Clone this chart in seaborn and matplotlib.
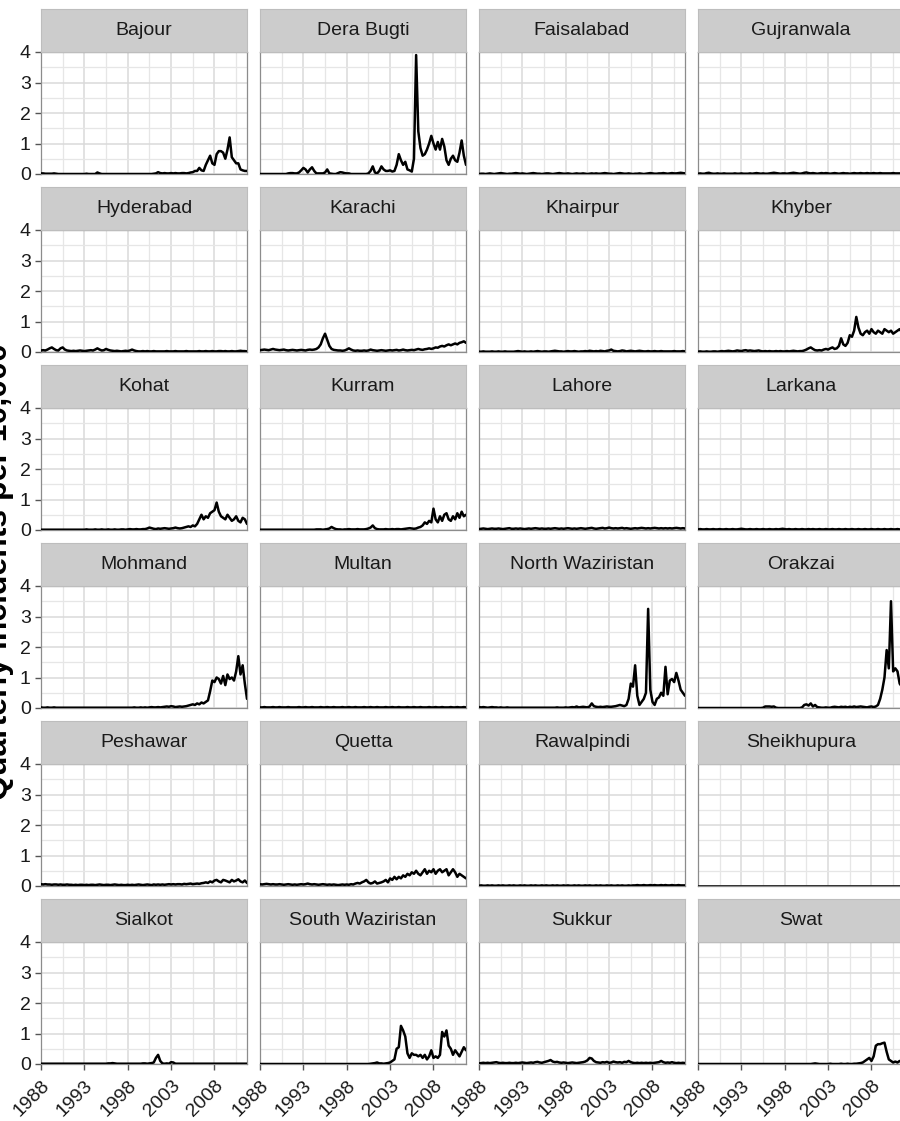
import numpy as np
import pandas as pd
import matplotlib
matplotlib.use("Agg")
import matplotlib.pyplot as plt
import seaborn as sns

# ---------------- data (quarterly, 1988 Q1 .. 2011 Q4) ----------------
districts = ["Bajour", "Dera Bugti", "Faisalabad", "Gujranwala",
             "Hyderabad", "Karachi", "Khairpur", "Khyber",
             "Kohat", "Kurram", "Lahore", "Larkana",
             "Mohmand", "Multan", "North Waziristan", "Orakzai",
             "Peshawar", "Quetta", "Rawalpindi", "Sheikhupura",
             "Sialkot", "South Waziristan", "Sukkur", "Swat"]

quarters = [1988 + 0.25 * i for i in range(96)]

bajour = [
 .02,.02,.01,.01,.01,.01,.02,.01,
 0,0,0,0,0,0,0,0,
 0,0,0,0,0,.01,0,0,
 0,0,.05,.02,0,0,0,0,
 0,0,0,0,0,0,0,0,
 0,0,0,0,0,0,0,0,
 0,0,0,0,.01,.02,.06,.03,
 .02,.03,.02,.02,.03,.02,.03,.02,
 .02,.03,.03,.02,.03,.05,.06,.10,
 .10,.20,.12,.10,.30,.45,.60,.35,
 .30,.65,.75,.75,.70,.50,.80,1.20,
 .55,.45,.35,.35,.15,.12,.10,.10]

dera_bugti = [
 0,0,0,0,0,0,0,0,
 0,0,0,0,0,.02,.03,.03,
 .02,.02,.05,.12,.20,.15,.05,.15,
 .22,.10,.02,.02,.02,.02,.05,.15,
 .02,.01,0,0,.03,.06,.05,.03,
 .02,.02,0,0,0,0,0,0,
 0,0,.02,.10,.25,.05,.02,.10,
 .25,.15,.10,.10,.12,.08,.10,.30,
 .65,.45,.30,.40,.15,.12,.08,.50,
 3.90,1.40,.85,.60,.65,.80,1.00,1.25,
 1.00,.80,1.05,.80,1.15,.90,.45,.30,
 .50,.60,.45,.40,.70,1.10,.60,.30]

faisalabad = [
 .00,.01,.01,.00,.01,.02,.01,.00,
 .01,.02,.03,.02,.01,.00,.01,.01,
 .02,.03,.02,.01,.02,.01,.00,.01,
 .02,.03,.02,.01,.01,.00,.01,.02,
 .02,.01,.00,.01,.02,.03,.02,.01,
 .01,.02,.01,.00,.01,.02,.01,.01,
 .02,.01,.00,.01,.02,.01,.02,.01,
 .01,.02,.03,.02,.01,.01,.00,.01,
 .02,.03,.02,.01,.01,.02,.01,.00,
 .01,.01,.02,.01,.00,.01,.02,.03,
 .02,.01,.01,.02,.02,.03,.02,.01,
 .02,.03,.02,.02,.03,.04,.03,.02]

gujranwala = [
 .01,.02,.01,.01,.03,.04,.02,.01,
 .01,.02,.01,.01,.02,.01,.01,.01,
 .01,.02,.01,.01,.02,.01,.01,.01,
 .02,.01,.02,.03,.02,.01,.02,.01,
 .01,.02,.03,.04,.03,.02,.01,.02,
 .02,.01,.02,.03,.04,.03,.02,.01,
 .02,.04,.05,.03,.02,.03,.02,.01,
 .02,.03,.02,.03,.02,.01,.02,.03,
 .02,.01,.02,.03,.02,.02,.01,.02,
 .03,.02,.02,.03,.02,.02,.03,.02,
 .02,.03,.02,.02,.03,.02,.02,.02,
 .02,.02,.03,.02,.02,.02,.03,.02]

hyderabad = [
 .05,.06,.05,.08,.12,.15,.10,.06,
 .05,.12,.15,.08,.05,.04,.03,.04,
 .03,.04,.05,.04,.03,.04,.05,.06,
 .05,.08,.12,.08,.05,.06,.10,.07,
 .05,.04,.03,.04,.03,.02,.03,.04,
 .03,.05,.08,.05,.03,.02,.02,.03,
 .02,.03,.02,.02,.03,.02,.02,.02,
 .02,.02,.03,.02,.02,.02,.03,.02,
 .02,.02,.02,.03,.02,.02,.02,.02,
 .02,.03,.02,.02,.03,.02,.02,.03,
 .02,.02,.03,.03,.02,.03,.02,.02,
 .03,.02,.02,.03,.04,.03,.03,.02]

karachi = [
 .06,.07,.08,.07,.06,.08,.10,.08,
 .07,.06,.07,.08,.06,.05,.06,.07,
 .06,.05,.06,.07,.06,.05,.07,.08,
 .07,.08,.10,.15,.25,.45,.60,.40,
 .20,.10,.07,.06,.05,.05,.04,.05,
 .08,.12,.08,.05,.04,.05,.04,.04,
 .05,.04,.05,.08,.06,.05,.04,.05,
 .06,.05,.04,.05,.06,.05,.06,.07,
 .05,.06,.08,.06,.05,.06,.07,.06,
 .08,.10,.08,.07,.09,.10,.12,.10,
 .12,.15,.14,.18,.20,.18,.22,.25,
 .22,.25,.28,.25,.30,.32,.35,.30]

khairpur = [
 .01,.01,.02,.01,.01,.01,.02,.01,
 .01,.02,.01,.01,.02,.01,.01,.01,
 .01,.02,.03,.02,.01,.02,.01,.01,
 .02,.01,.02,.03,.02,.01,.02,.02,
 .01,.02,.03,.04,.03,.02,.02,.01,
 .02,.03,.02,.02,.03,.02,.01,.02,
 .02,.03,.02,.04,.03,.02,.03,.02,
 .04,.03,.02,.04,.05,.08,.04,.03,
 .02,.03,.05,.04,.02,.03,.04,.03,
 .02,.03,.04,.03,.02,.02,.03,.02,
 .02,.03,.02,.02,.03,.02,.02,.02,
 .02,.02,.03,.02,.02,.02,.03,.02]

khyber = [
 .01,.02,.01,.01,.02,.01,.01,.02,
 .02,.01,.02,.03,.02,.03,.04,.03,
 .02,.03,.05,.04,.03,.05,.06,.04,
 .05,.04,.03,.04,.05,.03,.02,.03,
 .02,.03,.02,.02,.03,.02,.03,.02,
 .02,.03,.02,.03,.04,.03,.02,.03,
 .03,.05,.08,.12,.15,.10,.06,.05,
 .06,.05,.08,.10,.08,.12,.15,.10,
 .12,.20,.45,.25,.20,.30,.55,.50,
 .70,1.15,.80,.60,.55,.65,.70,.60,
 .75,.65,.60,.70,.65,.60,.75,.70,
 .65,.70,.60,.65,.70,.75,.65,.60]

kohat = [
 .01,.01,.01,.01,.01,.01,.01,.01,
 .01,.01,.01,.01,.01,.01,.01,.01,
 .01,.01,.01,.01,.01,.02,.01,.01,
 .01,.02,.01,.01,.02,.01,.01,.02,
 .01,.01,.02,.01,.01,.02,.02,.01,
 .02,.03,.02,.02,.03,.02,.02,.03,
 .03,.05,.08,.06,.04,.03,.05,.04,
 .05,.06,.05,.04,.05,.06,.08,.06,
 .05,.06,.08,.10,.12,.10,.15,.12,
 .20,.35,.50,.35,.45,.40,.55,.60,
 .65,.90,.60,.45,.40,.35,.50,.40,
 .30,.35,.45,.30,.25,.40,.35,.20]

kurram = [
 .01,.01,.01,.01,.01,.01,.01,.01,
 .01,.01,.01,.01,.01,.01,.01,.01,
 .01,.01,.01,.01,.01,.01,.01,.01,
 .01,.01,.02,.02,.02,.01,.02,.03,
 .05,.10,.06,.03,.02,.02,.01,.02,
 .02,.03,.02,.02,.02,.03,.02,.02,
 .02,.03,.05,.08,.15,.06,.03,.02,
 .02,.02,.03,.02,.02,.03,.02,.03,
 .03,.02,.03,.04,.05,.06,.05,.04,
 .05,.08,.10,.15,.25,.20,.30,.25,
 .70,.35,.25,.45,.30,.50,.55,.35,
 .30,.45,.35,.55,.40,.60,.45,.50]

lahore = [
 .03,.04,.05,.04,.03,.04,.05,.04,
 .04,.05,.04,.03,.04,.05,.06,.04,
 .04,.05,.04,.05,.04,.03,.04,.05,
 .04,.05,.06,.05,.04,.05,.04,.04,
 .05,.04,.05,.06,.05,.04,.05,.04,
 .05,.06,.05,.04,.05,.04,.05,.06,
 .05,.04,.05,.06,.07,.05,.04,.05,
 .06,.07,.05,.06,.08,.06,.05,.06,
 .05,.06,.07,.05,.06,.05,.04,.05,
 .06,.05,.06,.07,.06,.05,.06,.05,
 .06,.07,.06,.05,.06,.05,.06,.05,
 .06,.05,.06,.07,.06,.05,.06,.05]

larkana = [
 .02,.03,.02,.02,.03,.02,.02,.03,
 .02,.02,.03,.02,.02,.03,.02,.02,
 .03,.02,.02,.03,.04,.03,.02,.02,
 .03,.02,.02,.03,.02,.02,.03,.02,
 .02,.03,.02,.02,.03,.02,.03,.04,
 .03,.02,.03,.02,.02,.03,.02,.02,
 .03,.02,.02,.03,.02,.03,.02,.02,
 .03,.02,.02,.03,.02,.02,.03,.02,
 .02,.03,.02,.02,.03,.02,.02,.03,
 .02,.02,.03,.02,.02,.03,.02,.02,
 .03,.02,.02,.03,.02,.02,.03,.02,
 .02,.03,.02,.02,.03,.02,.02,.03]

mohmand = [
 .02,.01,.01,.02,.01,.01,.02,.01,
 .01,.01,.01,.01,.01,.01,.01,.01,
 .01,.01,.01,.01,.01,.01,.01,.01,
 .01,.01,.01,.01,.01,.01,.01,.01,
 .01,.01,.01,.01,.01,.01,.01,.01,
 .01,.01,.01,.02,.01,.01,.02,.01,
 .02,.01,.02,.03,.02,.02,.03,.02,
 .03,.04,.05,.04,.06,.05,.03,.04,
 .05,.04,.05,.06,.08,.10,.12,.10,
 .15,.12,.18,.15,.20,.25,.55,.90,
 .85,1.00,.95,.80,1.05,.75,1.10,.95,
 1.00,.90,1.20,1.70,1.10,1.40,.80,.30]

multan = [
 .02,.02,.03,.02,.02,.02,.03,.02,
 .02,.03,.02,.02,.02,.03,.02,.02,
 .02,.02,.03,.02,.02,.03,.02,.02,
 .03,.02,.02,.02,.03,.02,.02,.03,
 .02,.02,.03,.02,.02,.02,.03,.02,
 .02,.03,.02,.02,.03,.02,.02,.02,
 .03,.02,.02,.03,.02,.02,.03,.02,
 .02,.02,.03,.02,.02,.03,.02,.02,
 .03,.02,.02,.02,.03,.02,.02,.03,
 .02,.02,.03,.02,.02,.02,.03,.02,
 .02,.03,.02,.02,.03,.02,.02,.02,
 .03,.02,.02,.03,.02,.02,.03,.02]

north_waziristan = [
 .03,.02,.03,.02,.01,.02,.03,.02,
 .02,.01,.02,.01,.01,.02,.01,.01,
 .01,.01,.01,.01,.01,.01,.01,.01,
 .01,.01,.01,.01,.01,.01,.01,.01,
 .01,.01,.01,.01,.02,.01,.01,.01,
 .02,.01,.02,.03,.02,.05,.02,.03,
 .04,.03,.02,.05,.15,.06,.04,.03,
 .04,.03,.04,.05,.04,.04,.05,.06,
 .08,.10,.08,.06,.10,.30,.80,.70,
 1.40,.40,.10,.20,.30,.50,3.25,.60,
 .20,.10,.30,.35,.50,.40,1.35,.45,
 .90,.95,.85,1.15,.90,.60,.50,.40]

orakzai = [
 0,0,0,0,0,0,0,0,
 0,0,0,0,0,0,0,0,
 0,0,0,0,0,0,0,0,
 0,0,0,0,0,0,.01,.05,
 .05,.05,.04,.05,.01,0,0,0,
 0,0,0,0,0,0,0,0,
 .02,.10,.12,.08,.15,.05,.10,.03,
 .02,.01,.01,.02,.01,.01,.03,.04,
 .03,.02,.04,.03,.04,.02,.04,.03,
 .05,.03,.04,.05,.04,.03,.02,.04,
 .05,.03,.05,.10,.30,.60,1.00,1.90,
 1.30,3.50,1.20,1.30,1.20,.80,.70,.60]

peshawar = [
 .06,.05,.06,.05,.05,.04,.05,.05,
 .04,.05,.04,.04,.05,.04,.04,.03,
 .04,.03,.04,.04,.03,.04,.03,.04,
 .04,.03,.04,.05,.04,.03,.04,.04,
 .03,.04,.05,.04,.03,.04,.03,.03,
 .04,.03,.04,.03,.04,.05,.04,.03,
 .04,.05,.04,.03,.05,.04,.05,.04,
 .05,.04,.05,.06,.05,.06,.05,.06,
 .06,.05,.07,.06,.07,.08,.06,.07,
 .08,.07,.09,.10,.12,.10,.15,.12,
 .18,.20,.15,.12,.20,.18,.15,.12,
 .20,.15,.18,.22,.15,.12,.18,.10]

quetta = [
 .06,.05,.06,.07,.06,.05,.06,.05,
 .05,.06,.05,.04,.05,.06,.05,.04,
 .05,.04,.05,.06,.05,.06,.08,.06,
 .05,.06,.05,.04,.05,.06,.05,.04,
 .05,.04,.05,.04,.03,.04,.05,.04,
 .05,.04,.06,.05,.08,.10,.08,.12,
 .15,.20,.12,.08,.10,.15,.08,.10,
 .12,.15,.20,.12,.25,.20,.30,.22,
 .30,.25,.35,.30,.40,.35,.45,.40,
 .50,.40,.35,.45,.55,.40,.50,.45,
 .55,.40,.50,.55,.45,.50,.55,.35,
 .45,.55,.45,.30,.40,.35,.30,.25]

rawalpindi = [
 .01,.02,.01,.01,.02,.01,.02,.01,
 .01,.02,.01,.02,.01,.01,.02,.01,
 .02,.01,.01,.02,.01,.02,.01,.01,
 .02,.01,.02,.01,.01,.02,.01,.02,
 .01,.01,.02,.01,.02,.01,.01,.02,
 .01,.02,.01,.01,.02,.01,.02,.01,
 .01,.02,.01,.02,.01,.01,.02,.01,
 .02,.01,.01,.02,.01,.02,.01,.01,
 .02,.01,.02,.01,.01,.02,.01,.02,
 .02,.03,.02,.02,.03,.02,.02,.03,
 .02,.03,.02,.02,.03,.02,.03,.02,
 .02,.03,.02,.02,.03,.02,.02,.02]

sheikhupura = [
 .01,.01,.01,.01,.01,.01,.01,.01,
 .01,.01,.01,.01,.01,.01,.01,.01,
 .01,.01,.01,.01,.01,.01,.01,.01,
 .01,.01,.01,.01,.01,.01,.01,.01,
 .01,.01,.01,.01,.01,.01,.01,.01,
 .01,.01,.01,.01,.01,.01,.01,.01,
 .01,.01,.01,.01,.01,.01,.01,.01,
 .01,.01,.01,.01,.01,.01,.01,.01,
 .01,.01,.01,.01,.01,.01,.01,.01,
 .01,.01,.01,.01,.01,.01,.01,.01,
 .01,.01,.01,.01,.01,.01,.01,.01,
 .01,.01,.01,.01,.01,.01,.01,.01]

sialkot = [
 .01,.01,.01,.01,.01,.01,.01,.01,
 .01,.01,.01,.01,.01,.01,.01,.01,
 .01,.01,.01,.01,.01,.01,.01,.01,
 .01,.01,.01,.01,.01,.01,.01,.02,
 .02,.03,.02,.01,.01,.01,.01,.01,
 .01,.01,.01,.01,.01,.01,.01,.02,
 .02,.01,.02,.03,.05,.20,.30,.10,
 .02,.01,.02,.01,.06,.05,.01,.01,
 .01,.01,.01,.01,.01,.01,.01,.01,
 .01,.01,.01,.01,.01,.01,.01,.01,
 .01,.01,.01,.01,.01,.01,.01,.01,
 .01,.01,.01,.01,.01,.01,.01,.01]

south_waziristan = [
 0,0,0,0,0,0,0,0,
 0,0,0,0,0,0,0,0,
 0,0,0,0,0,0,0,0,
 0,0,0,0,0,0,0,0,
 0,0,0,0,0,0,0,0,
 0,0,0,0,0,0,0,0,
 0,0,0,.01,.02,.03,.05,.02,
 .02,.01,.02,.03,.05,.10,.15,.50,
 .55,1.25,1.10,.90,.35,.20,.35,.30,
 .30,.25,.30,.20,.30,.15,.25,.45,
 .20,.25,.20,.30,1.05,.90,1.10,.60,
 .50,.30,.45,.35,.25,.40,.55,.45]

sukkur = [
 .02,.03,.04,.03,.04,.03,.04,.05,
 .06,.04,.03,.04,.03,.03,.04,.03,
 .03,.04,.03,.04,.05,.04,.03,.04,
 .05,.04,.06,.07,.05,.04,.06,.08,
 .10,.13,.08,.06,.07,.05,.04,.05,
 .04,.03,.04,.05,.04,.03,.04,.05,
 .06,.08,.12,.20,.18,.10,.06,.05,
 .04,.06,.05,.07,.04,.05,.08,.06,
 .05,.06,.04,.07,.06,.10,.06,.04,
 .03,.04,.03,.04,.03,.04,.03,.04,
 .03,.04,.05,.06,.10,.06,.04,.05,
 .04,.06,.04,.03,.04,.03,.04,.03]

swat = [
 0,0,0,0,0,0,0,0,
 0,0,0,0,0,0,0,0,
 0,0,0,0,0,0,0,0,
 0,0,0,0,0,0,0,0,
 0,0,0,0,0,0,0,0,
 0,0,0,0,0,0,0,0,
 0,0,0,0,0,.01,.02,.01,
 0,0,0,0,0,.01,0,0,
 0,0,.01,0,0,.01,0,0,
 .01,.01,.02,.03,.05,.10,.15,.20,
 .10,.25,.60,.65,.65,.68,.70,.40,
 .15,.10,.05,.08,.05,.10,.05,.03]

series = [bajour, dera_bugti, faisalabad, gujranwala,
          hyderabad, karachi, khairpur, khyber,
          kohat, kurram, lahore, larkana,
          mohmand, multan, north_waziristan, orakzai,
          peshawar, quetta, rawalpindi, sheikhupura,
          sialkot, south_waziristan, sukkur, swat]

year_ticks = [1988, 1993, 1998, 2003, 2008]
year_minor = [1990.5, 1995.5, 2000.5, 2005.5, 2010.5]
y_ticks = [0, 1, 2, 3, 4]
y_minor = [0.5, 1.5, 2.5, 3.5]
y_label = "Quarterly incidents per 10,000"

df = pd.DataFrame({
    "district": np.repeat(districts, len(quarters)),
    "year": np.tile(quarters, len(districts)),
    "value": np.concatenate([np.asarray(s, dtype=float) for s in series]),
})

# ---------------- style ----------------
sns.set_theme(style="white")
plt.rcParams["font.family"] = ["Liberation Sans", "DejaVu Sans"]

W, H = 900, 1121
fig = plt.figure(figsize=(W / 100, H / 100), dpi=100)
fig.patch.set_facecolor("white")


def px_axes(x, y, w, h):
    return fig.add_axes([x / W, 1 - (y + h) / H, w / W, h / H])


BORDER = "#8C8C8C"
TXT = "#1A1A1A"
FS = 14

for k, name in enumerate(districts):
    r, c = divmod(k, 4)
    x0 = 41 + 219 * c
    ptop = 52 + 178 * r
    ax = px_axes(x0, ptop, 206, 122)
    sax = px_axes(x0, ptop - 43, 206, 43)

    sub = df[df["district"] == name]
    sns.lineplot(data=sub, x="year", y="value", ax=ax, color="black",
                 linewidth=1.8, zorder=5, clip_on=True)

    ax.set_xlim(1988, 2011.75)
    ax.set_ylim(0, 4)
    ax.set_xticks(year_ticks)
    ax.set_xticks(year_minor, minor=True)
    ax.set_yticks(y_ticks)
    ax.set_yticks(y_minor, minor=True)
    ax.grid(which="major", color="#DADADA", linewidth=1.1)
    ax.grid(which="minor", color="#E6E6E6", linewidth=0.9)
    ax.set_axisbelow(True)
    ax.set_facecolor("white")
    for sp in ax.spines.values():
        sp.set_color(BORDER)
        sp.set_linewidth(0.9)
    ax.set_xlabel("")
    ax.set_ylabel("")
    ax.tick_params(which="minor", length=0)

    if c == 0:
        ax.set_yticklabels([str(v) for v in y_ticks], fontsize=FS, color=TXT)
        ax.tick_params(axis="y", which="major", length=4.3, width=1.0,
                       color="#555555", pad=3, left=True)
    else:
        ax.set_yticklabels([])
        ax.tick_params(axis="y", which="major", length=0)

    if r == 5:
        ax.set_xticklabels([str(v) for v in year_ticks], fontsize=FS,
                           color=TXT, rotation=45, ha="right",
                           rotation_mode="anchor")
        ax.tick_params(axis="x", which="major", length=4.3, width=1.0,
                       color="#555555", pad=5, bottom=True)
    else:
        ax.set_xticklabels([])
        ax.tick_params(axis="x", which="major", length=0)

    # facet strip
    sax.set_facecolor("#CCCCCC")
    sax.set_xticks([])
    sax.set_yticks([])
    for sp in sax.spines.values():
        sp.set_color("#BDBDBD")
        sp.set_linewidth(0.8)
    sax.text(0.5, 0.5, name, ha="center", va="center", fontsize=FS,
             color=TXT, transform=sax.transAxes)

fig.text(14 / W, 1 - 572 / H, y_label, rotation=90, ha="right", va="center",
         fontsize=23, fontweight="bold", color="black")

fig.savefig("out.png", dpi=100, facecolor="white")
